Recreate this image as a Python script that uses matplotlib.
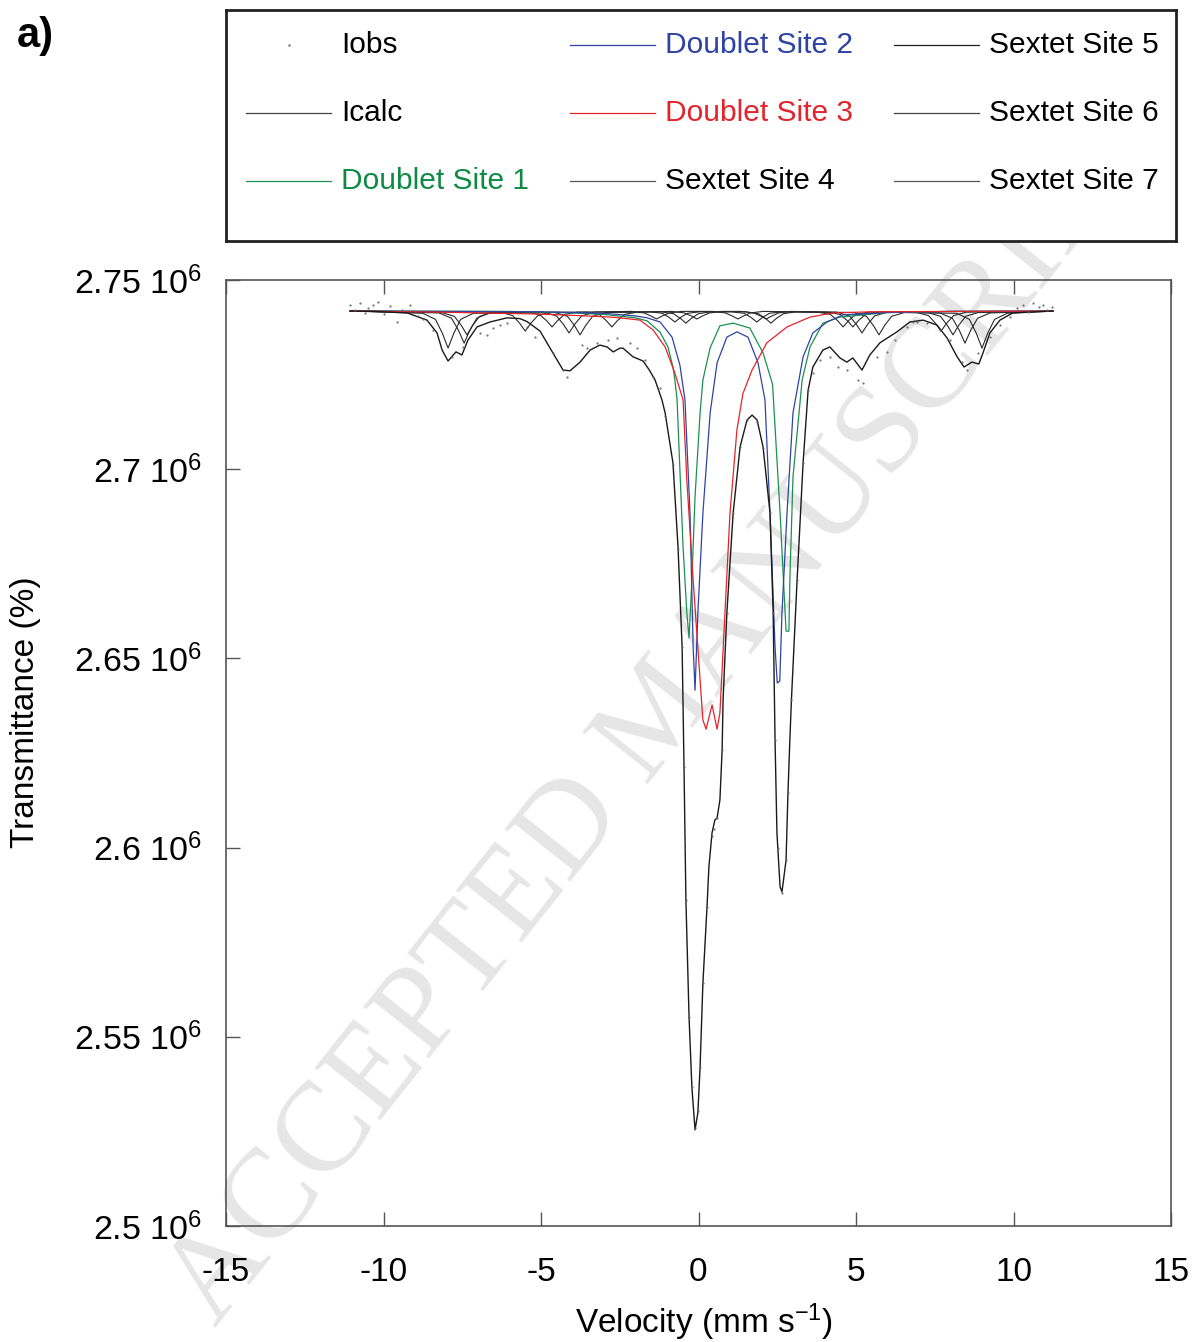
import matplotlib
matplotlib.use('Agg')
import matplotlib.pyplot as plt

plt.rcParams['font.family'] = ['Liberation Sans', 'DejaVu Sans']
plt.rcParams['mathtext.default'] = 'regular'

# velocity (mm/s) and counts (x 10^6)
iobs_v = [-11.06, -10.9, -10.75, -10.59, -10.5, -10.33, -10.17, -10.0, -9.8, -9.57, -9.4, -9.16,
          -8.9, -8.75, -8.43, -7.83, -7.48, -6.94, -6.71, -6.52, -6.30, -6.08, -5.44, -5.19,
          -4.62, -4.30, -4.17, -3.70, -3.54, -3.22, -2.87, -2.59, -2.17, -1.95, -1.70, -1.44,
          -1.22, -1.06, -0.81, -0.65, -0.52, -0.46, -0.40, -0.30, -0.21, -0.11, -0.02, 0.05,
          0.14, 0.27, 0.43, 0.50, 0.59, 0.75, 0.90, 1.10, 1.32, 1.54, 1.86, 2.05, 2.27, 2.37,
          2.43, 2.52, 2.65, 2.78, 2.84, 2.95, 3.13, 3.32, 3.48, 3.63, 3.86, 4.17, 4.43, 4.71,
          5.06, 5.22, 5.67, 5.98, 6.24, 6.62, 6.81, 6.94, 7.25, 7.67, 7.98, 8.37, 8.52, 8.87,
          9.25, 9.57, 9.89, 10.1, 10.30, 10.45, 10.62, 10.8, 10.94, 11.05, 11.22]
iobs_y = [2.7434, 2.7420, 2.7439, 2.7413, 2.7425, 2.7434, 2.7442, 2.7411, 2.7430, 2.7389, 2.7420, 2.7434,
          2.7405, 2.7398, 2.7368, 2.7297, 2.7323, 2.7360, 2.7355, 2.7373, 2.7381, 2.7386, 2.7376, 2.7349,
          2.7307, 2.7262, 2.7244, 2.7328, 2.7320, 2.7334, 2.7341, 2.7347, 2.7334, 2.7320, 2.7289, 2.7244,
          2.7215, 2.7140, 2.7010, 2.6790, 2.6530, 2.6213, 2.5862, 2.5552, 2.5367, 2.5260, 2.5305, 2.5420,
          2.5642, 2.5843, 2.6030, 2.6050, 2.6078, 2.6258, 2.6620, 2.6884, 2.7059, 2.7130, 2.7125, 2.7055, 2.6884, 2.6620,
          2.6284, 2.6000, 2.5880, 2.5967, 2.6144, 2.6390, 2.6707, 2.7016, 2.7209, 2.7254, 2.7289, 2.7297, 2.7270, 2.7262,
          2.7236, 2.7228, 2.7297, 2.7310, 2.7341, 2.7376, 2.7389, 2.7389, 2.7386, 2.7368, 2.7341, 2.7283, 2.7262, 2.7307,
          2.7349, 2.7381, 2.7402, 2.7425, 2.7434, 2.7415, 2.7439, 2.7428, 2.7434, 2.7420, 2.7429]

icalc_v = [-11.06, -10.30, -9.25, -8.62, -8.30, -8.14, -7.95, -7.70, -7.51, -7.32, -7.03, -6.62,
           -6.08, -5.67, -5.44, -5.03, -4.62, -4.30, -4.08, -3.76, -3.44, -3.13, -2.90, -2.71,
           -2.49, -2.40, -2.08, -1.76, -1.56, -1.38, -1.16, -1.06, -0.81, -0.65, -0.52, -0.46,
           -0.40, -0.30, -0.21, -0.11, -0.02, 0.05, 0.14, 0.27, 0.33, 0.43, 0.52, 0.59, 0.68,
           0.75, 0.78, 0.90, 1.10, 1.32, 1.54, 1.70, 1.86, 2.05, 2.27, 2.37, 2.43, 2.49, 2.59,
           2.65, 2.78, 2.84, 2.90, 2.95, 3.13, 3.32, 3.48, 3.63, 3.95, 4.17, 4.49, 4.71, 4.90,
           5.19, 5.44, 5.76, 6.30, 6.71, 7.13, 7.57, 7.89, 8.21, 8.43, 8.68, 8.90, 9.03, 9.25,
           9.57, 9.98, 11.25]
icalc_y = [2.7418, 2.7417, 2.7413, 2.7394, 2.7360, 2.7315, 2.7286, 2.7310, 2.7302, 2.7341, 2.7376, 2.7389,
           2.7400, 2.7398, 2.7390, 2.7365, 2.7307, 2.7262, 2.7260, 2.7283, 2.7315, 2.7328, 2.7323, 2.7310,
           2.7320, 2.7320, 2.7297, 2.7286, 2.7262, 2.7236, 2.7183, 2.7149, 2.7016, 2.6794, 2.6530, 2.6213,
           2.5862, 2.5552, 2.5367, 2.5254, 2.5299, 2.5420, 2.5642, 2.5843, 2.5949, 2.6039, 2.6073, 2.6078, 2.6126,
           2.6258, 2.6390, 2.6620, 2.6884, 2.7059, 2.7130, 2.7143, 2.7130, 2.7059, 2.6884, 2.6620, 2.6284, 2.6039, 2.5896,
           2.5883, 2.5967, 2.6144, 2.6284, 2.6390, 2.6707, 2.7016, 2.7209, 2.7270, 2.7315, 2.7323, 2.7294, 2.7283, 2.7294,
           2.7262, 2.7302, 2.7334, 2.7363, 2.7389, 2.7394, 2.7381, 2.7347, 2.7297, 2.7270, 2.7283, 2.7278, 2.7307, 2.7360,
           2.7394, 2.7413, 2.7418]

# doublets
d1_v = [-11.06, -6.0, -4.0, -3.0, -2.0, -1.63, -1.22, -0.97, -0.81, -0.75, -0.68, -0.62, -0.49, -0.37,
        -0.30, -0.21, -0.11, 0.05, 0.14, 0.37, 0.68, 1.10, 1.63, 2.05, 2.35, 2.59, 2.75, 2.78, 2.87,
        2.90, 3.00, 3.29, 3.54, 3.95, 4.49, 6.0, 8.0, 11.25]
d1_y = [2.7418, 2.7417, 2.7413, 2.7409, 2.7400, 2.7392, 2.7362, 2.7323, 2.7270, 2.7236, 2.7183, 2.7059, 2.6794, 2.6620,
        2.6554, 2.6707, 2.6927, 2.7149, 2.7236, 2.7321, 2.7379, 2.7386, 2.7373, 2.7307, 2.7225, 2.6884, 2.6620, 2.6572, 2.6572,
        2.6707, 2.6980, 2.7236, 2.7323, 2.7386, 2.7402, 2.7414, 2.7417, 2.7418]

d2_v = [-11.06, -5.0, -3.0, -2.0, -1.63, -1.22, -0.84, -0.59, -0.43, -0.27, -0.17, -0.11, -0.02, 0.14,
        0.37, 0.59, 0.90, 1.22, 1.57, 1.89, 2.11, 2.27, 2.43, 2.50, 2.58, 2.65, 2.81, 3.00, 3.32,
        3.63, 4.08, 4.59, 6.0, 8.0, 11.25]
d2_y = [2.7418, 2.7416, 2.7412, 2.7405, 2.7400, 2.7389, 2.7349, 2.7275, 2.7183, 2.6884, 2.6530, 2.6416, 2.6620, 2.6884,
        2.7149, 2.7281, 2.7349, 2.7363, 2.7349, 2.7281, 2.7183, 2.6884, 2.6530, 2.6435, 2.6440, 2.6620, 2.6884, 2.7149, 2.7297,
        2.7360, 2.7389, 2.7408, 2.7414, 2.7417, 2.7418]

d3_v = [-11.06, -8.2, -5.0, -3.0, -2.49, -1.86, -1.44, -1.06, -0.75, -0.49, -0.37, -0.17, 0.05, 0.14,
        0.24, 0.43, 0.59, 0.68, 0.84, 1.00, 1.22, 1.41, 1.70, 2.17, 2.81, 3.54, 4.27, 5.5, 11.25]
d3_y = [2.7418, 2.7415, 2.7410, 2.7403, 2.7400, 2.7394, 2.7368, 2.7323, 2.7254, 2.7183, 2.6971, 2.6707, 2.6443, 2.6337,
        2.6313, 2.6377, 2.6313, 2.6356, 2.6620, 2.6884, 2.7104, 2.7200, 2.7262, 2.7334, 2.7376, 2.7402, 2.7413, 2.7416, 2.7418]

# sextets
s4_v = [-11.06,
        -8.15, -7.75, -7.53, -7.35, -7.17, -6.95, -6.55,
        -5.45, -5.05, -4.83, -4.65, -4.47, -4.25, -3.85,
        -2.13, -1.73, -1.51, -1.33, -1.15, -0.93, -0.53,
        0.45, 0.85, 1.07, 1.25, 1.43, 1.65, 2.05,
        3.79, 4.19, 4.41, 4.59, 4.77, 4.99, 5.39,
        7.28, 7.68, 7.90, 8.08, 8.26, 8.48, 8.88,
        11.25]
s4_y = [2.7418,
        2.7414, 2.7404, 2.7380, 2.7355, 2.7380, 2.7404, 2.7414,
        2.7415, 2.7409, 2.7393, 2.7376, 2.7393, 2.7409, 2.7415,
        2.7417, 2.7413, 2.7405, 2.7397, 2.7405, 2.7413, 2.7417,
        2.7417, 2.7413, 2.7405, 2.7397, 2.7405, 2.7413, 2.7417,
        2.7415, 2.7409, 2.7393, 2.7376, 2.7393, 2.7409, 2.7415,
        2.7414, 2.7404, 2.7380, 2.7355, 2.7380, 2.7404, 2.7414,
        2.7418]

s5_v = [-11.06,
        -8.24, -7.84, -7.62, -7.44, -7.26, -7.04, -6.64,
        -4.91, -4.51, -4.29, -4.11, -3.93, -3.71, -3.31,
        -1.55, -1.15, -0.93, -0.75, -0.57, -0.35, 0.05,
        1.05, 1.45, 1.67, 1.85, 2.03, 2.25, 2.65,
        4.39, 4.79, 5.01, 5.19, 5.37, 5.59, 5.99,
        7.66, 8.06, 8.28, 8.46, 8.64, 8.86, 9.26,
        11.25]
s5_y = [2.7418,
        2.7413, 2.7399, 2.7367, 2.7333, 2.7367, 2.7399, 2.7413,
        2.7415, 2.7405, 2.7383, 2.7360, 2.7383, 2.7405, 2.7415,
        2.7416, 2.7412, 2.7401, 2.7389, 2.7401, 2.7412, 2.7416,
        2.7416, 2.7412, 2.7401, 2.7389, 2.7401, 2.7412, 2.7416,
        2.7415, 2.7405, 2.7383, 2.7360, 2.7383, 2.7405, 2.7415,
        2.7413, 2.7399, 2.7367, 2.7333, 2.7367, 2.7399, 2.7413,
        2.7418]

s6_v = [-11.06,
        -8.75, -8.35, -8.13, -7.95, -7.77, -7.55, -7.15,
        -4.56, -4.16, -3.94, -3.76, -3.58, -3.36, -2.96,
        -1.20, -0.80, -0.58, -0.40, -0.22, 0.00, 0.40,
        1.50, 1.90, 2.12, 2.30, 2.48, 2.70, 3.10,
        4.93, 5.33, 5.55, 5.73, 5.91, 6.13, 6.53,
        8.20, 8.60, 8.82, 9.00, 9.18, 9.40, 9.80,
        11.25]
s6_y = [2.7418,
        2.7412, 2.7396, 2.7359, 2.7320, 2.7359, 2.7396, 2.7412,
        2.7414, 2.7404, 2.7380, 2.7355, 2.7380, 2.7404, 2.7414,
        2.7416, 2.7411, 2.7399, 2.7386, 2.7399, 2.7411, 2.7416,
        2.7416, 2.7411, 2.7399, 2.7386, 2.7399, 2.7411, 2.7416,
        2.7414, 2.7404, 2.7380, 2.7355, 2.7380, 2.7404, 2.7414,
        2.7412, 2.7396, 2.7359, 2.7320, 2.7359, 2.7396, 2.7412,
        2.7418]

s7_v = [-11.06,
        -6.30, -5.90, -5.68, -5.50, -5.32, -5.10, -4.70,
        -3.55, -3.15, -2.93, -2.75, -2.57, -2.35, -1.95,
        -0.85, -0.45, -0.23, -0.05, 0.13, 0.35, 0.75,
        1.35, 1.75, 1.97, 2.15, 2.33, 2.55, 2.95,
        4.10, 4.50, 4.72, 4.90, 5.08, 5.30, 5.70,
        6.90, 7.30, 7.52, 7.70, 7.88, 8.10, 8.50,
        11.25]
s7_y = [2.7418,
        2.7415, 2.7406, 2.7386, 2.7365, 2.7386, 2.7406, 2.7415,
        2.7415, 2.7409, 2.7393, 2.7376, 2.7393, 2.7409, 2.7415,
        2.7417, 2.7413, 2.7405, 2.7397, 2.7405, 2.7413, 2.7417,
        2.7417, 2.7413, 2.7405, 2.7397, 2.7405, 2.7413, 2.7417,
        2.7415, 2.7409, 2.7393, 2.7376, 2.7393, 2.7409, 2.7415,
        2.7415, 2.7406, 2.7386, 2.7365, 2.7386, 2.7406, 2.7415,
        2.7418]

y_ticks = [2.5, 2.55, 2.6, 2.65, 2.7, 2.75]
y_ticklabels = ['2.5 10$^{6}$', '2.55 10$^{6}$', '2.6 10$^{6}$', '2.65 10$^{6}$', '2.7 10$^{6}$', '2.75 10$^{6}$']
x_ticks = [-15, -10, -5, 0, 5, 10, 15]

green = '#1c9050'
blue = '#2f43a3'
red = '#e3242b'
sext = '#2b2b2b'

W, H = 1196, 1342
fig = plt.figure(figsize=(W / 100, H / 100), dpi=100)

ax = fig.add_axes([226 / W, 1 - 1226 / H, (1171 - 226) / W, (1226 - 280) / H])
ax.patch.set_alpha(0)

# watermark
fig.text(215 / W, 1 - 1328 / H, 'ACCEPTED MANUSCRIPT', family='Liberation Serif', fontsize=92,
         color='#e6e6e6', rotation=51.5, rotation_mode='anchor', ha='left', va='baseline', zorder=-5)

ax.plot(s4_v, s4_y, color=sext, lw=0.8)
ax.plot(s5_v, s5_y, color=sext, lw=0.8)
ax.plot(s6_v, s6_y, color=sext, lw=0.8)
ax.plot(s7_v, s7_y, color=sext, lw=0.8)
ax.plot(d1_v, d1_y, color=green, lw=0.9)
ax.plot(d2_v, d2_y, color=blue, lw=0.9)
ax.plot(d3_v, d3_y, color=red, lw=0.9)
ax.plot(icalc_v, icalc_y, color='#1a1a1a', lw=1.0)
ax.plot(iobs_v, iobs_y, ls='none', marker='.', ms=1.1, color='#666666')

ax.set_xlim(-15, 15)
ax.set_ylim(2.5, 2.75)
ax.set_xticks(x_ticks)
ax.set_xticklabels([str(t) for t in x_ticks])
ax.set_yticks(y_ticks)
ax.set_yticklabels(y_ticklabels)
ax.tick_params(axis='x', direction='in', length=10, width=1, top=True, pad=22, labelsize=24, color='#555555')
ax.tick_params(axis='y', direction='in', length=10, width=1, pad=17, labelsize=24.5, color='#555555')
for s in ax.spines.values():
    s.set_color('#555555')
    s.set_linewidth(1.2)

ax.set_xlabel('Velocity (mm s$^{-1}$)', fontsize=24)
ax.xaxis.set_label_coords(0.506, -0.08)
ax.set_ylabel('Transmittance (%)', fontsize=24)
ax.yaxis.set_label_coords(-0.196, 0.543)

# legend box
lg = fig.add_axes([226 / W, 1 - 241 / H, (1176 - 226) / W, (241 - 10) / H], zorder=5)
lg.set_xlim(0, 1)
lg.set_ylim(0, 1)
lg.set_xticks([])
lg.set_yticks([])
for s in lg.spines.values():
    s.set_color('#222222')
    s.set_linewidth(2)

entries = [('Iobs', None, 'black'), ('Icalc', '#444444', 'black'), ('Doublet Site 1', green, '#0f8a45'),
           ('Doublet Site 2', blue, blue), ('Doublet Site 3', red, red), ('Sextet Site 4', '#555555', 'black'),
           ('Sextet Site 5', '#222222', 'black'), ('Sextet Site 6', '#444444', 'black'), ('Sextet Site 7', '#555555', 'black')]
col_x = [0.021, 0.362, 0.703]
row_y = [0.850, 0.556, 0.261]
for i, (label, lc, tc) in enumerate(entries):
    c, r = divmod(i, 3)
    x0 = col_x[c]
    y0 = row_y[r]
    if lc is None:
        lg.plot([x0 + 0.045], [y0], ls='none', marker='.', ms=1.5, color='#777777')
    else:
        lg.plot([x0, x0 + 0.09], [y0, y0], color=lc, lw=0.9)
    lg.text(x0 + 0.1, y0, label, fontsize=21.5, color=tc, va='center', ha='left')

fig.text(17 / W, 1 - 36 / H, 'a)', fontsize=30, fontweight='bold', va='center', ha='left')

fig.savefig('out.png', dpi=100)
